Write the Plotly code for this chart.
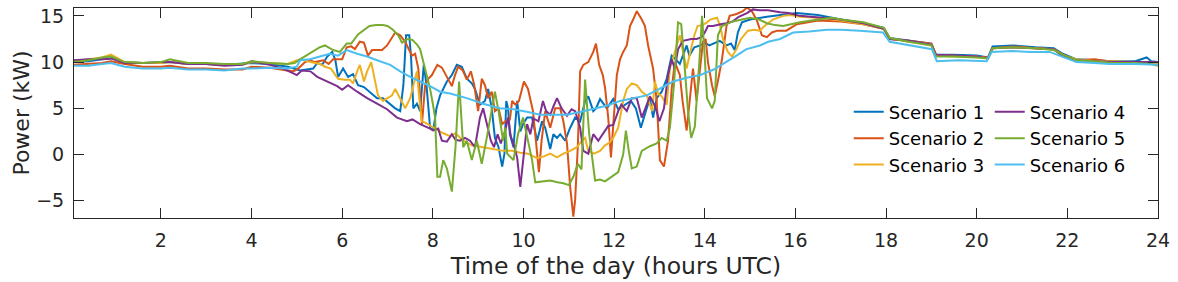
import plotly.graph_objects as go

names = ["Scenario 1", "Scenario 2", "Scenario 3", "Scenario 4", "Scenario 5", "Scenario 6"]
colors = ["#0072BD", "#D95319", "#EDB120", "#7E2F8E", "#77AC30", "#4DBEEE"]

# ---- Scenario 1 ----
t1 = [0.083, 0.4, 0.7, 0.9, 1.2, 1.6, 2.0, 2.2, 2.6, 3.0, 3.4, 3.8, 4.0, 4.4, 4.8,
      5.07, 5.2, 5.36, 5.45, 5.56, 5.67, 5.78, 5.85, 5.91, 6.02, 6.13, 6.24, 6.35, 6.48, 6.61, 6.77, 6.9,
      7.06, 7.17, 7.28, 7.35, 7.41, 7.48, 7.52, 7.54, 7.57, 7.65, 7.72, 7.8, 7.86, 7.94, 8.01, 8.08, 8.16,
      8.31, 8.42, 8.53, 8.64, 8.75, 8.86, 8.93, 9.04, 9.15, 9.22, 9.3, 9.37, 9.45, 9.53, 9.58, 9.62, 9.66,
      9.7, 9.78, 9.86, 9.93, 10.0, 10.08, 10.19, 10.3, 10.41, 10.48, 10.59, 10.66, 10.74, 10.81, 10.92,
      11.03, 11.14, 11.25, 11.36, 11.43, 11.54, 11.6, 11.69, 11.84, 11.98, 12.09, 12.24, 12.37, 12.48,
      12.59, 12.7, 12.79, 12.86, 12.94, 13.05, 13.16, 13.27, 13.34, 13.45, 13.6, 13.66, 13.77, 13.9, 14.0,
      14.1, 14.18, 14.33, 14.48, 14.58, 14.66, 14.73, 14.82, 15.0, 15.37, 15.73, 16.03,
      16.5, 17.0, 17.5, 17.95, 18.08, 18.5, 19.0, 19.1, 19.5, 20.0, 20.25, 20.35, 20.8, 21.3, 21.7, 21.9,
      22.2, 22.6, 23.0, 23.5, 23.75, 23.85, 24.0]
v1 = [10.0, 10.1, 10.3, 10.4, 10.0, 9.9, 9.9, 10.0, 9.8, 9.8, 9.7, 9.8, 9.9, 9.8, 9.5,
      9.1, 9.2, 9.3, 9.9, 9.7, 10.6, 11.1, 10.2, 8.4, 9.3, 8.4, 8.7, 7.5, 7.3, 6.8, 6.1, 6.1,
      5.4, 5.0, 4.7, 7.5, 12.9, 12.9, 10.5, 7.5, 5.0, 5.5, 4.7, 9.7, 7.5, 2.9, 2.6, 5.0, 6.4,
      7.9, 8.6, 9.7, 9.5, 8.2, 7.7, 7.1, 5.4, 5.8, 7.1, 5.0, 1.8, 0.8, -1.3, 0.1, 5.8, 5.0,
      2.2, 0.8, 5.8, 2.5, 3.4, 4.0, 4.0, 1.5, 3.6, 2.9, 0.6, 2.2, 1.8, 2.2, 1.5,
      2.9, 4.0, 3.6, 5.8, 6.3, 4.7, 5.0, 6.0, 5.0, 6.0, 4.9, 5.4, 5.8, 5.0,
      2.9, 4.7, 6.1, 4.0, 6.1, 6.8, 8.2, 10.7, 10.4, 9.8, 11.8, 10.7, 11.6, 11.8, 12.1,
      11.8, 12.0, 12.3, 11.8, 12.0, 11.3, 13.2, 14.3, 14.6, 14.9, 15.1, 15.3,
      15.1, 14.6, 14.2, 13.7, 12.6, 12.3, 12.0, 10.8, 10.8, 10.7, 10.5, 11.7, 11.8, 11.6, 11.5, 10.9,
      10.3, 10.2, 10.1, 10.1, 10.5, 10.1, 10.0]

# ---- Scenario 2 ----
t2 = [0.083, 0.4, 0.7, 0.9, 1.2, 1.6, 2.0, 2.2, 2.6, 3.0, 3.4, 3.8, 4.0, 4.4, 4.8,
      4.92, 5.03, 5.18, 5.29, 5.4, 5.58, 5.7, 5.8, 6.0, 6.1, 6.2, 6.28, 6.39, 6.48, 6.57, 6.66, 6.88, 6.99,
      7.17, 7.28, 7.39, 7.43, 7.54, 7.61, 7.68, 7.76, 7.83, 7.9, 7.98, 8.1, 8.2, 8.31, 8.42, 8.49, 8.56,
      8.66, 8.75, 8.84, 8.91, 9.0, 9.08, 9.15, 9.22, 9.3, 9.37, 9.45, 9.53, 9.6, 9.7, 9.75, 9.82, 9.9,
      10.01, 10.1, 10.21, 10.28, 10.34, 10.4, 10.48, 10.59, 10.7, 10.81, 10.88, 10.96, 11.03, 11.1, 11.14,
      11.2, 11.25, 11.32, 11.43, 11.54, 11.6, 11.67, 11.75, 11.8, 11.87, 11.93, 12.0, 12.06, 12.13, 12.2,
      12.28, 12.35, 12.42, 12.5, 12.61, 12.68, 12.75, 12.86, 12.94, 13.01, 13.1, 13.19, 13.27, 13.34,
      13.45, 13.51, 13.6, 13.67, 13.74, 13.82, 13.9, 13.96, 14.02, 14.07, 14.16, 14.22, 14.3, 14.38,
      14.48, 14.55, 14.7, 14.84, 14.93, 15.04, 15.15, 15.26, 15.37, 15.48, 15.6, 15.8, 16.03,
      16.5, 17.0, 17.5, 17.95, 18.08, 18.5, 19.0, 19.1, 19.5, 20.0, 20.25, 20.35, 20.8, 21.3, 21.7, 21.9,
      22.2, 22.6, 23.0, 23.5, 24.0]
v2 = [9.7, 9.8, 9.9, 10.1, 9.8, 9.5, 9.5, 9.6, 9.3, 9.3, 9.2, 9.2, 9.5, 9.4, 9.1,
      9.0, 9.3, 10.0, 10.2, 10.0, 10.2, 9.8, 10.3, 10.3, 11.6, 11.7, 11.4, 12.2, 12.1, 10.7, 11.3, 11.3, 11.8,
      13.2, 12.9, 12.2, 11.8, 10.7, 10.9, 9.3, 3.3, 7.5, 8.2, 8.6, 9.7, 9.4, 8.4, 7.4, 8.6, 9.5,
      9.1, 8.1, 9.0, 7.6, 4.7, 8.2, 7.5, 6.1, 6.8, 4.7, 5.0, 3.3, 3.6, 3.8, 5.8, 5.4, 5.8,
      7.9, 7.1, 4.7, 1.2, -1.9, 1.5, 4.7, 2.9, 5.0, 5.0, 3.6, 1.2, -3.5, -6.7, -4.9,
      1.0, 9.0, 9.7, 10.0, 11.1, 12.0, 9.7, 8.6, 7.2, 4.0, -0.3, 4.0, 8.6, 10.3, 11.1,
      11.8, 13.9, 14.6, 15.5, 14.6, 13.9, 11.8, 9.3, 5.8, -0.6, -1.3, 1.5, 7.1, 10.0,
      8.6, 5.8, 2.6, 5.8, 9.3, 5.8, 9.3, 12.2, 12.5, 10.0, 7.5, 6.3, 8.2, 10.3,
      13.9, 15.0, 15.2, 15.5, 15.9, 15.5, 14.5, 12.9, 12.7, 13.2, 13.4, 13.4, 14.1,
      14.5, 14.4, 14.1, 13.6, 12.5, 12.3, 12.0, 10.8, 10.7, 10.6, 10.5, 11.5, 11.7, 11.5, 11.4, 10.8,
      10.2, 10.3, 10.0, 10.0, 9.9]

# ---- Scenario 3 ----
t3 = [0.083, 0.4, 0.7, 0.9, 1.2, 1.6, 2.0, 2.2, 2.6, 3.0, 3.4, 3.8, 4.0, 4.4, 4.8,
      4.95, 5.07, 5.3, 5.51, 5.62, 5.75, 5.91, 6.05, 6.17, 6.24, 6.33, 6.39, 6.48, 6.55, 6.64, 6.72, 6.79,
      6.9, 7.0, 7.1, 7.17, 7.24, 7.3, 7.39, 7.5, 7.57, 7.65, 7.7, 7.76, 7.85, 8.01, 8.23, 8.38, 8.5, 8.67,
      8.86, 9.11, 9.3, 9.55, 9.75, 9.93, 10.1, 10.3, 10.45, 10.59, 10.74, 10.88, 11.03, 11.18, 11.29,
      11.36, 11.43, 11.55, 11.69, 11.8, 11.9, 11.98, 12.09, 12.2, 12.28, 12.39, 12.5, 12.61, 12.72, 12.84,
      12.9, 12.97, 13.05, 13.16, 13.23, 13.34, 13.45, 13.52, 13.6, 13.68, 13.77, 13.84, 13.95, 14.05,
      14.12, 14.27, 14.34, 14.4, 14.51, 14.6, 14.7, 14.8, 14.95, 15.1, 15.21, 15.32, 15.5, 15.73, 15.9, 16.1,
      16.5, 17.0, 17.5, 17.95, 18.08, 18.5, 19.0, 19.1, 19.5, 20.0, 20.25, 20.35, 20.8, 21.3, 21.7, 21.9,
      22.2, 22.6, 23.0, 23.5, 24.0]
v3 = [10.1, 10.3, 10.5, 10.8, 10.0, 9.9, 9.9, 10.0, 9.8, 9.8, 9.7, 9.7, 10.0, 9.9, 9.8,
      10.1, 10.3, 10.0, 9.8, 9.5, 9.3, 8.2, 8.1, 8.1, 7.7, 9.0, 9.7, 7.9, 9.0, 10.0, 8.2, 6.4,
      5.8, 6.1, 6.4, 7.1, 6.4, 5.8, 5.0, 6.1, 7.5, 9.0, 6.1, 3.6, 3.4, 2.9, 2.3, 2.0, 2.3, 1.5,
      1.0, 0.8, 0.6, 0.4, 0.4, 0.2, 0.1, -0.4, -0.2, 0.1, -0.3, 0.1, 0.4, 0.8, 1.5,
      1.8, 0.4, 0.1, 0.4, 1.0, 1.3, 1.8, 2.9, 5.8, 7.1, 7.7, 7.5, 6.8, 6.4, 4.7,
      7.9, 6.6, 6.3, 5.4, 9.3, 11.1, 12.9, 11.1, 9.3, 11.1, 12.9, 13.9, 14.0, 14.3,
      14.6, 14.8, 13.9, 12.5, 11.1, 10.6, 11.4, 12.5, 13.4, 13.5, 13.4, 13.9, 14.6, 15.0, 15.1, 14.9,
      14.8, 14.5, 14.1, 13.6, 12.6, 12.2, 11.9, 10.7, 10.6, 10.6, 10.4, 11.5, 11.6, 11.5, 11.4, 10.7,
      10.3, 10.1, 10.1, 10.0, 9.9]

# ---- Scenario 4 ----
t4 = [0.083, 0.4, 0.7, 0.9, 1.2, 1.6, 2.0, 2.2, 2.6, 3.0, 3.4, 3.8, 4.0, 4.4, 4.7,
      5.0, 5.11, 5.3, 5.45, 5.67, 5.89, 6.0, 6.13, 6.33, 6.55, 6.77, 6.99, 7.21, 7.43, 7.55, 7.72, 7.94,
      8.01, 8.12, 8.2, 8.31, 8.42, 8.5, 8.6, 8.71, 8.82, 8.93, 9.04, 9.11, 9.2, 9.28, 9.35, 9.43, 9.5,
      9.6, 9.66, 9.72, 9.8, 9.86, 9.93, 10.0, 10.08, 10.15, 10.22, 10.33, 10.43, 10.5, 10.59, 10.66,
      10.74, 10.84, 10.96, 11.06, 11.14, 11.25, 11.32, 11.43, 11.54, 11.65, 11.75, 11.87, 11.98, 12.09,
      12.16, 12.28, 12.39, 12.5, 12.61, 12.72, 12.79, 12.9, 13.0, 13.1, 13.19, 13.27, 13.34, 13.41, 13.52,
      13.7, 13.82, 13.93, 14.0, 14.07, 14.18, 14.35, 14.48, 14.62, 14.75, 14.93, 15.06, 15.2, 15.4, 15.66,
      15.85, 16.1,
      16.5, 17.0, 17.5, 17.95, 18.08, 18.5, 19.0, 19.1, 19.5, 20.0, 20.25, 20.35, 20.8, 21.3, 21.7, 21.9,
      22.2, 22.6, 23.0, 23.5, 24.0]
v4 = [10.2, 10.3, 10.3, 10.4, 9.9, 9.9, 10.0, 10.0, 9.8, 9.8, 9.6, 9.7, 10.1, 9.7, 9.3,
      8.6, 9.1, 9.0, 8.4, 7.9, 7.4, 7.0, 7.5, 6.8, 6.1, 5.5, 4.9, 4.0, 3.6, 3.8, 3.3, 2.8,
      2.6, 2.8, 1.5, 1.4, 2.2, 1.6, 1.5, 1.8, 1.5, 0.8, 4.0, 5.0, 3.3, 1.5, 0.8, 2.2, 1.2,
      2.6, 4.0, 2.0, 0.8, -0.3, -3.5, -0.3, 3.3, 2.2, 3.9, 3.6, 5.8, 4.7, 4.3, 5.2,
      6.1, 5.0, 4.2, 4.9, 4.7, 2.9, 0.4, 0.1, 2.2, 1.5, 2.2, 3.1, 3.2, 4.7,
      5.4, 4.7, 6.1, 6.1, 4.0, 5.4, 6.3, 5.3, 3.6, 5.0, 8.6, 10.3, 9.3, 11.4, 12.3,
      12.5, 12.5, 12.7, 13.2, 13.9, 13.9, 14.1, 14.2, 14.4, 14.9, 15.3, 15.7, 15.6, 15.6, 15.4,
      15.3, 15.0,
      14.8, 14.6, 14.2, 13.6, 12.5, 12.3, 11.9, 10.8, 10.7, 10.6, 10.4, 11.5, 11.6, 11.5, 11.4, 10.6,
      10.2, 10.1, 10.0, 10.0, 10.0]

# ---- Scenario 5 ----
t5 = [0.083, 0.4, 0.7, 0.9, 1.2, 1.6, 2.0, 2.2, 2.6, 3.0, 3.4, 3.8, 4.0, 4.4, 4.8,
      4.95, 5.07, 5.3, 5.5, 5.62, 5.8, 5.95, 6.1, 6.2, 6.35, 6.6, 6.75, 6.9, 7.0, 7.12, 7.25, 7.32, 7.43,
      7.55, 7.65, 7.72, 7.83, 7.94, 8.0, 8.05, 8.1, 8.16, 8.23, 8.31, 8.42, 8.5, 8.58, 8.67, 8.75, 8.86,
      8.97, 9.08, 9.19, 9.3, 9.37, 9.45, 9.55, 9.6, 9.64, 9.78, 9.88, 9.99, 10.08, 10.19, 10.26, 10.4,
      10.59, 10.75, 10.88, 11.0, 11.1, 11.2, 11.28, 11.36, 11.45, 11.58, 11.69, 11.8, 11.95, 12.09, 12.2,
      12.26, 12.32, 12.39, 12.5, 12.61, 12.79, 12.94, 13.05, 13.16, 13.23, 13.32, 13.41, 13.48, 13.56,
      13.63, 13.7, 13.78, 13.88, 13.94, 14.0, 14.05, 14.16, 14.22, 14.29, 14.38, 14.62, 14.8, 15.0, 15.2,
      15.37, 15.55, 15.73, 15.9, 16.1,
      16.5, 16.8, 17.0, 17.5, 17.95, 18.08, 18.5, 19.0, 19.1, 19.5, 20.0, 20.25, 20.35, 20.8, 21.3, 21.7,
      21.9, 22.2, 22.6, 23.0, 23.5, 23.85, 24.0]
v5 = [10.0, 10.2, 10.5, 10.6, 10.0, 9.9, 10.0, 10.3, 9.9, 9.9, 9.8, 9.8, 10.1, 9.9, 9.8,
      9.9, 10.3, 11.0, 11.6, 11.8, 11.3, 11.1, 12.0, 12.0, 13.0, 13.9, 14.0, 14.0, 13.9, 13.5, 12.8, 12.1, 12.5,
      12.4, 11.9, 11.4, 9.3, 7.1, 5.5, 4.0, -2.4, -2.4, -0.6, -1.5, -4.0, 0.8, 7.9, 0.8, 1.5, -0.6,
      1.5, -1.0, 1.8, 4.7, 6.8, 4.7, 1.5, 2.9, 0.1, -0.6, 2.2, 4.0, 1.8, -0.6, -3.0, -2.9,
      -2.8, -3.0, -3.1, -3.3, -2.4, -1.0, -1.6, 8.1, 2.2, -2.8, -2.7, -2.9, -2.4, -1.9, 0.0,
      2.6, 0.5, -1.5, -1.3, 0.4, 0.9, 1.2, 1.8, 1.5, 2.9, 7.5, 14.3, 14.1, 9.3,
      4.7, 1.8, 3.0, 10.0, 15.0, 10.5, 6.1, 5.0, 5.8, 12.9, 13.9, 14.4, 14.6, 14.8, 14.6,
      14.2, 14.0, 13.9, 14.1, 14.3,
      14.6, 14.8, 14.6, 14.3, 13.7, 12.6, 12.2, 11.8, 10.6, 10.6, 10.5, 10.4, 11.5, 11.6, 11.5, 11.3,
      10.8, 10.2, 10.1, 9.9, 9.9, 9.8, 9.6]

# ---- Scenario 6 ----
t6 = [0.083, 0.4, 0.7, 0.9, 1.2, 1.6, 2.0, 2.2, 2.6, 3.0, 3.4, 3.8, 4.0, 4.4, 4.8,
      5.0, 5.07, 5.29, 5.51, 5.73, 5.91, 6.1, 6.33, 6.55, 6.77, 7.06, 7.28, 7.5, 7.72, 7.94, 8.16, 8.38,
      8.75, 9.11, 9.48, 9.78, 10.1, 10.37, 10.7, 10.96, 11.25, 11.54, 11.85, 12.13, 12.45, 12.72, 13.0,
      13.3, 13.6, 13.9, 14.2, 14.48, 14.7, 14.92, 15.22, 15.4, 15.66, 15.95,
      16.3, 16.7, 17.0, 17.42, 17.93, 18.08, 18.53, 19.01, 19.12, 19.62, 20.22, 20.33, 20.79, 21.2, 21.61,
      21.9, 22.2, 22.6, 22.93, 23.5, 24.0]
v6 = [9.6, 9.6, 9.8, 9.9, 9.5, 9.3, 9.3, 9.4, 9.2, 9.2, 9.1, 9.3, 9.3, 9.4, 9.3,
      9.5, 10.2, 10.3, 10.6, 10.9, 10.7, 11.3, 10.9, 10.6, 10.2, 9.7, 9.0, 8.4, 7.9, 7.4, 6.8, 6.6,
      6.1, 5.5, 5.0, 4.9, 4.6, 4.3, 4.3, 4.3, 4.6, 4.9, 5.3, 5.8, 6.1, 6.4, 7.1,
      7.9, 8.3, 8.6, 9.2, 10.0, 10.7, 11.4, 11.8, 12.2, 12.5, 13.2,
      13.3, 13.5, 13.5, 13.4, 13.2, 12.2, 11.8, 11.4, 10.1, 10.2, 10.1, 11.1, 11.2, 11.1, 11.1,
      10.6, 10.0, 9.9, 9.8, 9.8, 9.7]

xs = [t1, t2, t3, t4, t5, t6]
ys = [v1, v2, v3, v4, v5, v6]
legend_of = ["legend", "legend", "legend", "legend2", "legend2", "legend2"]

x_ticks = [2, 4, 6, 8, 10, 12, 14, 16, 18, 20, 22, 24]
y_ticks = [-5, 0, 5, 10, 15]

FONT = "DejaVu Sans"
INK = "#262626"

fig = go.Figure()
for name, col, x, y, lg in zip(names, colors, xs, ys, legend_of):
    fig.add_trace(go.Scatter(x=x, y=y, mode="lines", name=name,
                             line=dict(color=col, width=2), legend=lg))

axis_common = dict(showline=True, linecolor=INK, linewidth=1, mirror="ticks",
                   ticks="inside", ticklen=10, tickcolor=INK, tickwidth=1,
                   showgrid=False, zeroline=False, ticklabelstandoff=5,
                   tickfont=dict(family=FONT, size=19, color=INK))

fig.update_layout(
    width=1178, height=282,
    margin=dict(l=74, r=20, t=5, b=64),
    paper_bgcolor="white", plot_bgcolor="white",
    font=dict(family=FONT, color=INK),
    xaxis=dict(range=[0.083, 24], tickvals=x_ticks,
               title=dict(text="Time of the day (hours UTC)", font=dict(family=FONT, size=23.5, color=INK), standoff=7),
               **axis_common),
    yaxis=dict(range=[-6.86, 15.85], tickvals=y_ticks,
               title=dict(text="Power (kW)", font=dict(family=FONT, size=22, color=INK), standoff=0),
               **axis_common),
    legend=dict(x=0.7147, y=0.5926, xanchor="left", yanchor="top", bgcolor="rgba(0,0,0,0)",
                borderwidth=0, font=dict(family=FONT, size=18, color="black"), tracegroupgap=0),
    legend2=dict(x=0.8448, y=0.5926, xanchor="left", yanchor="top", bgcolor="rgba(0,0,0,0)",
                 borderwidth=0, font=dict(family=FONT, size=18, color="black"), tracegroupgap=0),
    showlegend=True,
)

fig.write_html("out.html", config={"displayModeBar": False},
               post_script="document.body.style.margin='0';")
